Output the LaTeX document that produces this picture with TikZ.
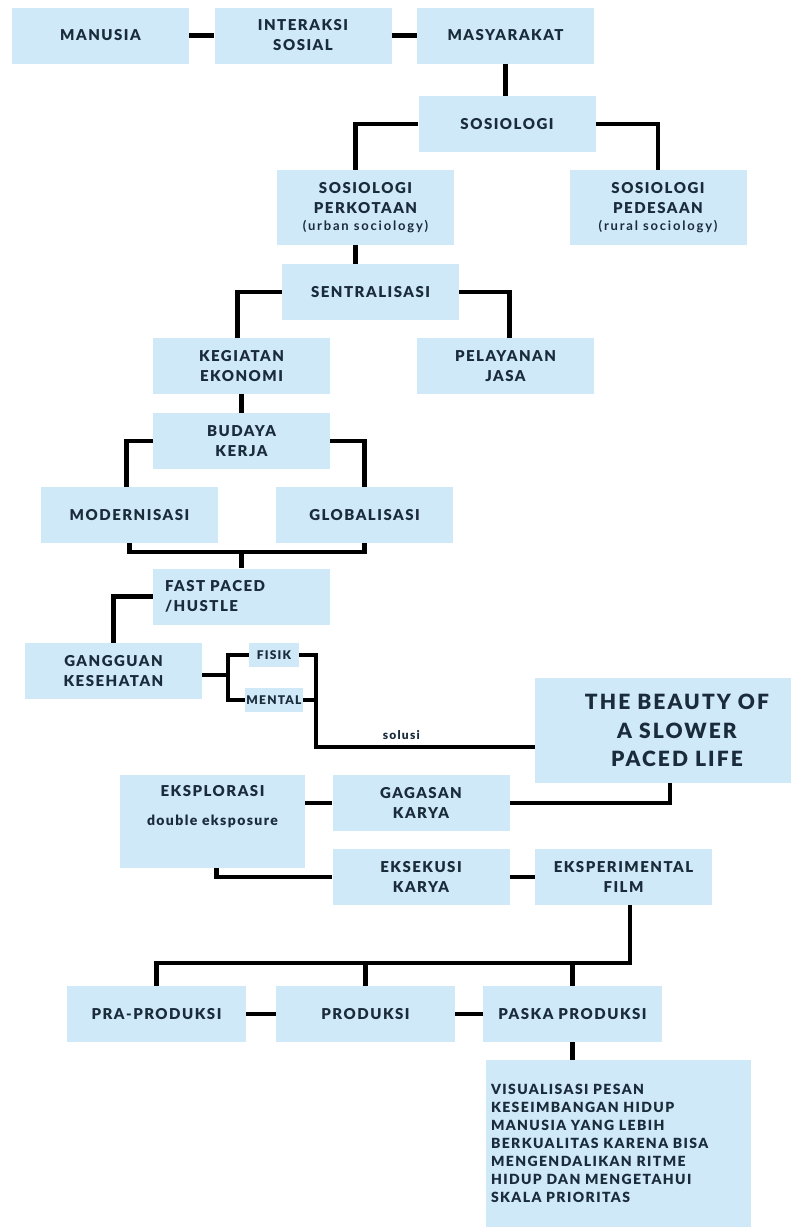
\documentclass[tikz,border=0pt]{standalone}
\usepackage{fontspec}
\setmainfont{Lato}[LetterSpace=10, BoldFont={Lato Black}]
\newfontfamily\tipis{Lato}[LetterSpace=14]
\definecolor{birumuda}{HTML}{CFE9F9}
\definecolor{tinta}{HTML}{1A2B3B}
\tikzset{
  kotak/.style={fill=birumuda, text=tinta, minimum width=177pt, minimum height=56pt, inner sep=0pt, align=center, font=\bfseries\fontsize{15}{20}\selectfont},
  kotakkecil/.style={kotak, minimum height=24pt, font=\bfseries\fontsize{12}{14}\selectfont},
  garis/.style={line width=4.5pt},
}
\begin{document}
\begin{tikzpicture}[x=1pt, y=-1pt]
\useasboundingbox (0,0) rectangle (791,1229);
% nodes
\node[kotak] (manusia)    at (100.5, 35.5) {MANUSIA};
\node[kotak] (interaksi)  at (303, 35.5) {INTERAKSI\\SOSIAL};
\node[kotak] (masyarakat) at (505.5, 35.5) {MASYARAKAT};
    \node[kotak] (sosiologi) at (507, 124) {SOSIOLOGI};
        \node[kotak, minimum height=75pt] (kota) at (365.5, 207.5) {SOSIOLOGI\\PERKOTAAN\\[-3pt]{\tipis\bfseries\fontsize{13}{15}\selectfont (urban sociology)}};
        \node[kotak, minimum height=75pt] (desa) at (658, 207.5) {SOSIOLOGI\\PEDESAAN\\[-3pt]{\tipis\bfseries\fontsize{13}{15}\selectfont (rural sociology)}};
    \node[kotak] (sentral) at (370.5, 292) {SENTRALISASI};
        \node[kotak] (ekonomi) at (241.5, 366) {KEGIATAN\\EKONOMI};
        \node[kotak] (jasa)    at (505.5, 366) {PELAYANAN\\JASA};
    \node[kotak] (budaya) at (241.5, 441) {BUDAYA\\KERJA};
        \node[kotak] (modern) at (129.5, 515) {MODERNISASI};
        \node[kotak] (global) at (364.5, 515) {GLOBALISASI};
    \node[kotak, align=left, text width=153pt, inner xsep=12pt] (hustle) at (241.5, 596.5) {FAST PACED\\/HUSTLE};
\node[kotak] (gangguan) at (113.5, 671) {GANGGUAN\\KESEHATAN};
    \node[kotakkecil, minimum width=50pt] (fisik)  at (274, 655) {FISIK};
    \node[kotakkecil, minimum width=58pt] (mental) at (274, 700) {MENTAL};
\node[kotak, minimum width=284pt, minimum height=105pt, font=\bfseries\fontsize{21}{28.5}\selectfont] (beauty) at (677, 730.5) {THE BEAUTY OF\\A SLOWER\\PACED LIFE};
\node[kotak, minimum width=185pt, minimum height=93pt, text depth=32pt] (eksplorasi) at (212.5, 821.5) {EKSPLORASI\\[9pt]{\fontsize{14}{16}\selectfont double eksposure}};
    \node[kotak] (gagasan)    at (421, 803) {GAGASAN\\KARYA};
    \node[kotak] (eksekusi)   at (421, 877) {EKSEKUSI\\KARYA};
    \node[kotak] (eksperimen) at (623.5, 877) {EKSPERIMENTAL\\FILM};
\node[kotak, minimum width=179pt] (pra)      at (156.5, 1014) {PRA-PRODUKSI};
\node[kotak, minimum width=179pt] (produksi) at (365.5, 1014) {PRODUKSI};
\node[kotak, minimum width=179pt] (paska)    at (572.5, 1014) {PASKA PRODUKSI};
    \node[kotak, minimum height=167pt, align=left, text width=255pt, inner xsep=5pt, font=\bfseries\fontsize{14}{18}\selectfont] (visual) at (618.5, 1143.5) {VISUALISASI PESAN\\KESEIMBANGAN HIDUP\\MANUSIA YANG LEBIH\\BERKUALITAS KARENA BISA\\MENGENDALIKAN RITME\\HIDUP DAN MENGETAHUI\\SKALA PRIORITAS};
% lines
\draw[garis] (manusia) -- (interaksi);
\draw[garis] (interaksi) -- (masyarakat);
\draw[garis] (masyarakat.south) -- (masyarakat.south |- sosiologi.north);
    \draw[garis] (sosiologi.west) -| ([xshift=-10pt]kota.north);
    \draw[garis] (sosiologi.east) -| (desa.north);
    \draw[garis] ([xshift=-10pt]kota.south) -- ([xshift=-10pt]kota.south |- sentral.north);
\draw[garis] (sentral.west) -| ([xshift=-4pt]ekonomi.north);
\draw[garis] (sentral.east) -| ([xshift=4pt]jasa.north);
\draw[garis] (ekonomi) -- (budaya);
    \draw[garis] (budaya.west) -| ([xshift=-3pt]modern.north);
    \draw[garis] (budaya.east) -| (global.north);
\coordinate (gabung) at (241.5, 552);
    \draw[garis] (modern.south) |- (gabung) -| (global.south);
    \draw[garis] (gabung) -- (hustle);
\draw[garis] (hustle.west) -| (gangguan.north);
\coordinate (cabang) at (228, 675);
    \draw[garis] (gangguan.east |- cabang) -- (cabang);
    \draw[garis] (fisik.west) -| (cabang) |- (mental.west);
\coordinate (belok) at (316, 747);
    \draw[garis] (fisik.east) -| (belok) -- node[pos=0.39, above=2pt, text=tinta, font=\bfseries\fontsize{12}{14}\selectfont] (solusi) {solusi} (belok -| beauty.west);
    \draw[garis] (mental.east) -- (mental.east -| belok);
\draw[garis] (eksplorasi.east |- gagasan) -- (gagasan);
\draw[garis] (gagasan.east) -| ([xshift=-7pt]beauty.south);
\draw[garis] ([xshift=4pt]eksplorasi.south) |- (eksekusi.west);
\draw[garis] (eksekusi) -- (eksperimen);
    \draw[garis] ([xshift=6.5pt]eksperimen.south) |- ([yshift=23pt]pra.north) -- (pra.north);
    \draw[garis] (produksi.north) -- ++(0,-23);
    \draw[garis] (paska.north) -- ++(0,-23);
\draw[garis] (pra) -- (produksi);
\draw[garis] (produksi) -- (paska);
    \draw[garis] (paska.south) -- (paska.south |- visual.north);
\end{tikzpicture}
\end{document}
